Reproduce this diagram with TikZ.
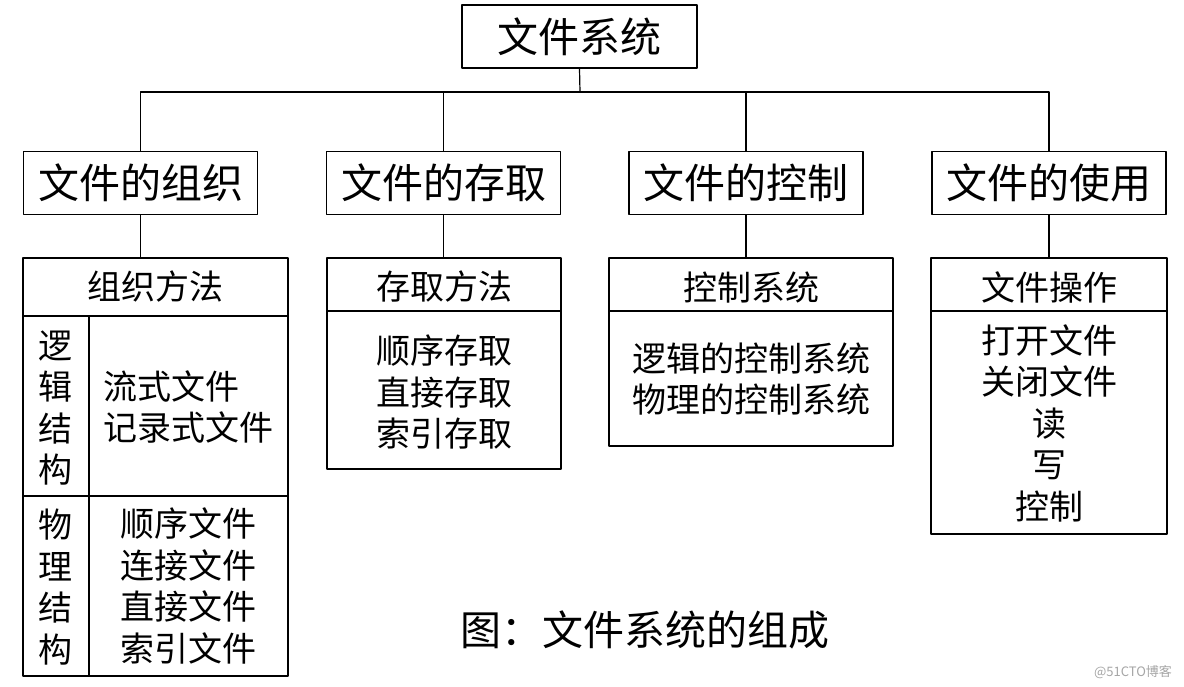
\documentclass[tikz,border=0pt]{standalone}
\usepackage{fontspec}
\newfontfamily\cjk{Noto Sans CJK SC}
\usetikzlibrary{positioning,calc}

\begin{document}
\begin{tikzpicture}[x=1pt,y=-1pt,line join=round,
  head/.style={draw,line width=1.6pt,inner sep=0pt,minimum height=63,font=\cjk\fontsize{41}{41}\selectfont},
  tab/.style={draw,line width=1.6pt,inner sep=0pt},
  txt/.style={inner sep=0pt,align=center,font=\cjk\fontsize{34}{41.5}\selectfont},
  link/.style={line width=1.2pt}]
\useasboundingbox[fill=white] (0,0) rectangle (1184,686);
% top and second level
\node[head,minimum width=235] (fs)  at (579.5,36.5) {文件系统};
\node[head,minimum width=234] (org) at (140.5,183)  {文件的组织};
\node[head,minimum width=234] (acc) at (443.5,183)  {文件的存取};
\node[head,minimum width=234] (ctl) at (746,183)    {文件的控制};
\node[head,minimum width=234] (use) at (1049,183)   {文件的使用};
\coordinate (bus) at (580,92);
\draw[link] (fs.south) -- (bus);
\draw[link] (org.north) |- (bus) -| (use.north);
\draw[link] (acc.north) -- (acc.north |- bus);
\draw[link] (ctl.north) -- (ctl.north |- bus);
% tables
\node[tab,minimum width=265,minimum height=418] (orgtab) at (155.5,467) {};
\node[tab,minimum width=234,minimum height=211] (acctab) at (444,363.5) {};
\node[tab,minimum width=284,minimum height=188] (ctltab) at (751,352)   {};
\node[tab,minimum width=236,minimum height=276] (usetab) at (1049,396)  {};
\draw[link] (org.south) -- (org.south |- orgtab.north);
\draw[link] (acc.south) -- (acc.south |- acctab.north);
\draw[link] (ctl.south) -- (ctl.south |- ctltab.north);
\draw[link] (use.south) -- (use.south |- usetab.north);
\draw[tab] ($(orgtab.north west)+(0,59)$) -- ($(orgtab.north east)+(0,59)$);
\draw[tab] ($(orgtab.north west)+(0,239)$) -- ($(orgtab.north east)+(0,239)$);
\draw[tab] ($(orgtab.north west)+(67,59)$) -- ($(orgtab.south west)+(67,0)$);
\foreach \t in {acctab,ctltab,usetab}
  \draw[tab] ($(\t.north west)+(0,54)$) -- ($(\t.north east)+(0,54)$);
% texts
\node[txt] (orgm) at (155,287) {组织方法};
\node[txt] (logic) at (55,408) {逻\\辑\\结\\构};
\node[txt,anchor=west,align=left] (logf) at (103,407) {流式文件\\记录式文件};
\node[txt] (phys) at (55,587) {物\\理\\结\\构};
\node[txt] (physf) at (188,586) {顺序文件\\连接文件\\直接文件\\索引文件};
\node[txt] (accm) at (444,287) {存取方法};
\node[txt] (accf) at (444,392) {顺序存取\\直接存取\\索引存取};
\node[txt] (ctlm) at (751,287) {控制系统};
\node[txt] (ctlf) at (751,379) {逻辑的控制系统\\物理的控制系统};
\node[txt] (usem) at (1049,287) {文件操作};
\node[txt] (usef) at (1049,423) {打开文件\\关闭文件\\读\\写\\控制};
\node[inner sep=0pt,font=\cjk\fontsize{41}{41}\selectfont] (cap) at (645,630) {图：文件系统的组成};
\node[inner sep=0pt,text=black!35,font=\cjk\fontsize{13}{13}\selectfont] (mark) at (1133,672) {@51CTO博客};
\end{tikzpicture}
\end{document}
